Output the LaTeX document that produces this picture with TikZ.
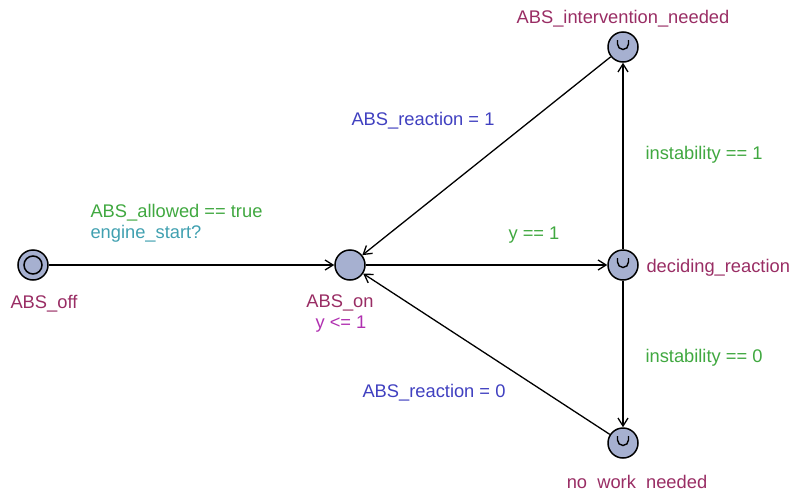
\documentclass[tikz,border=0pt]{standalone}
\usepackage{fontspec}
\setmainfont{Liberation Sans}
\usetikzlibrary{arrows.meta}
\definecolor{locfill}{RGB}{166,176,208}
\definecolor{namecol}{RGB}{153,45,100}
\definecolor{invcol}{RGB}{176,48,176}
\definecolor{guardcol}{RGB}{64,168,64}
\definecolor{synccol}{RGB}{64,160,176}
\definecolor{updcol}{RGB}{64,64,192}
\tikzset{loc/.style={circle,draw,line width=1.5pt,fill=locfill,minimum size=30pt,inner sep=0pt}}
\tikzset{urgentloc/.style={loc,path picture={\draw[line width=1.4pt] ([xshift=-5.5pt,yshift=7pt]path picture bounding box.center) -- ++(0,-4pt) arc[start angle=180,end angle=360,radius=5.5pt] -- ++(0,4pt);}}}
\tikzset{initloc/.style={loc,path picture={\draw[line width=1.5pt] (path picture bounding box.center) circle[radius=9pt];}}}
\tikzset{edge/.style={line width=1.3pt,-{Straight Barb[length=8pt,width=10pt]}}}

\begin{document}
\begin{tikzpicture}[x=1pt,y=-1pt,font=\fontsize{18.3}{22}\selectfont]
        \useasboundingbox (0,0) rectangle (793,490);
        \node[initloc] (off) at (33,265) {};
        \node[loc] (on) at (350,265) {};
        \node[urgentloc] (decide) at (623,265) {};
        \node[urgentloc] (interv) at (623,47) {};
        \node[urgentloc] (nowork) at (623,443) {};
        \node[anchor=base west,text=namecol] (offname) at (7,308) {ABS\_off};
        \node[anchor=base,text=namecol] (onname) at (340,307) {ABS\_on};
        \node[anchor=base,text=invcol] (oninv) at (341,328) {y <= 1};
        \node[anchor=base west,text=namecol] (decidename) at (643,272) {deciding\_reaction};
        \node[anchor=base,text=namecol] (intervname) at (623,23) {ABS\_intervention\_needed};
        \node[anchor=base,text=namecol] (noworkname) at (637,488) {no\_work\_needed};
        \draw[edge] (off) -- (on);
        \node[anchor=base west,text=guardcol] (startguard) at (87,217) {ABS\_allowed == true};
        \node[anchor=base west,text=synccol] (startsync) at (87,238) {engine\_start?};
        \draw[edge] (on) -- (decide);
        \node[anchor=base west,text=guardcol] (clockguard) at (505,239) {y == 1};
        \draw[edge] (decide) -- (interv);
        \node[anchor=base west,text=guardcol] (instguard1) at (642,159) {instability == 1};
        \draw[edge] (decide) -- (nowork);
        \node[anchor=base west,text=guardcol] (instguard0) at (642,362) {instability == 0};
        \draw[edge] (interv) -- (on);
        \node[anchor=base west,text=updcol] (react1) at (348,125) {ABS\_reaction = 1};
        \draw[edge] (nowork) -- (on);
        \node[anchor=base west,text=updcol] (react0) at (359,397) {ABS\_reaction = 0};
    \end{tikzpicture}
\end{document}
